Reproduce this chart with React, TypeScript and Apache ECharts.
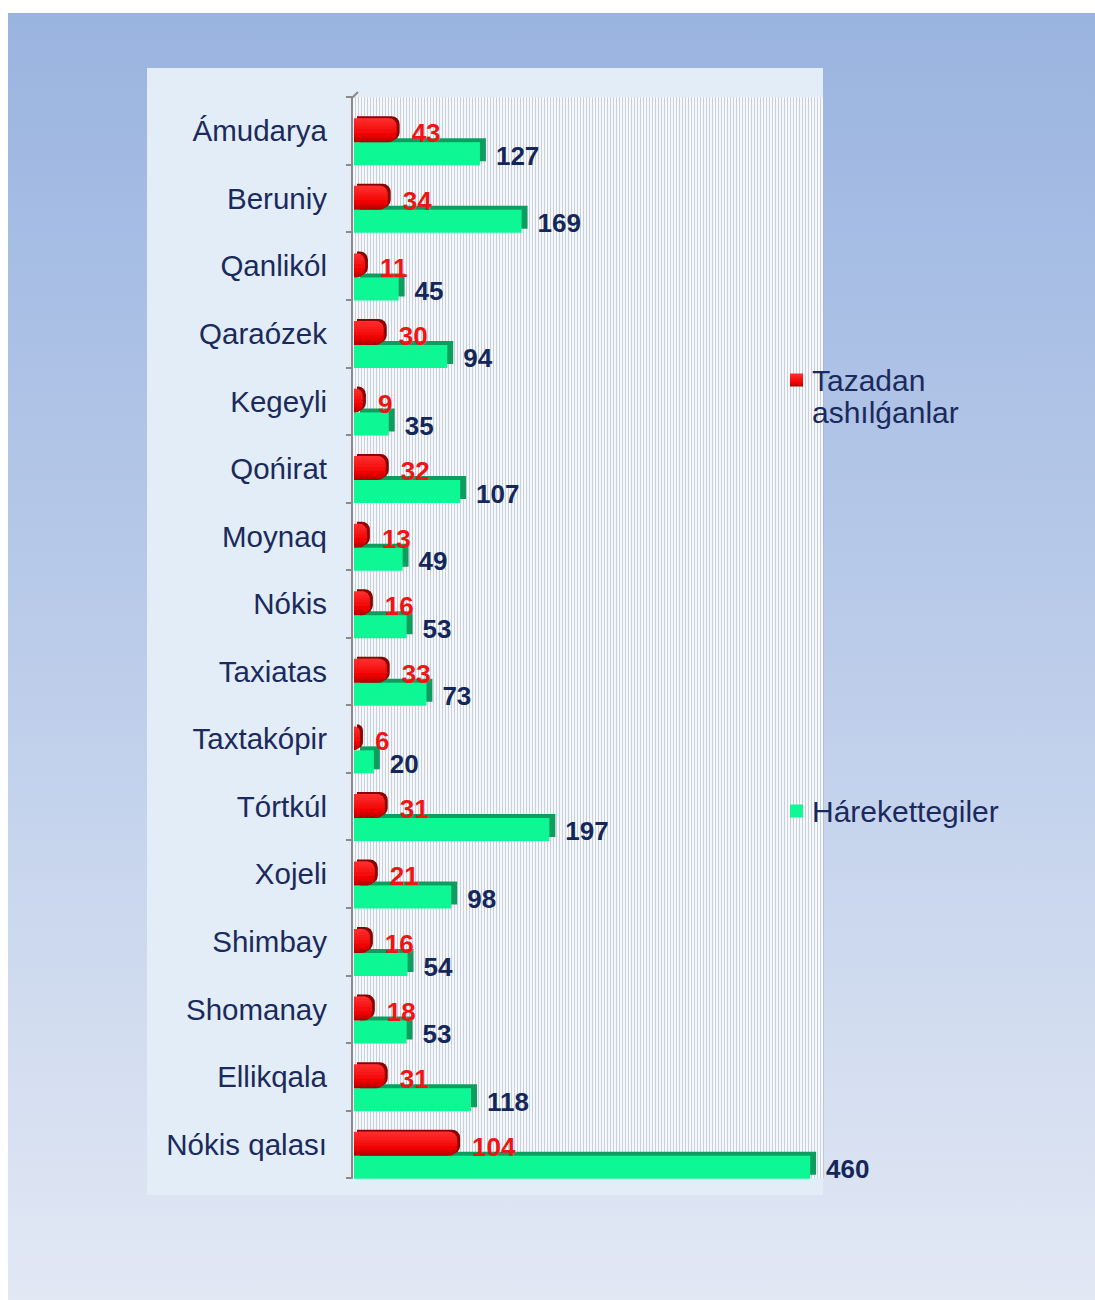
import React, { useEffect, useRef } from "react";
import * as echarts from "echarts";

const categories = [
  "Ámudarya", "Beruniy", "Qanlikól", "Qaraózek", "Kegeyli", "Qońirat", "Moynaq", "Nókis",
  "Taxiatas", "Taxtakópir", "Tórtkúl", "Xojeli", "Shimbay", "Shomanay", "Ellikqala", "Nókis qalası",
];
const tazadan = [43, 34, 11, 30, 9, 32, 13, 16, 33, 6, 31, 21, 16, 18, 31, 104];
const harekettegiler = [127, 169, 45, 94, 35, 107, 49, 53, 73, 20, 197, 98, 54, 53, 118, 460];
const seriesNames = ["Tazadan ashılǵanlar", "Hárekettegiler"];

const FONT = "'Liberation Sans', Arial, sans-serif";

export default function App() {
  const ref = useRef<HTMLDivElement>(null);
  useEffect(() => {
    if (!ref.current) return;
    const chart = echarts.init(ref.current, undefined, { renderer: "svg" });
    chart.setOption({
      animation: false,
      backgroundColor: "transparent",
      graphic: [
        {
          type: "rect",
          z: -10,
          shape: { x: 139, y: 55, width: 676, height: 1127 },
          style: { fill: "#e3edf8" },
        },
        {
          type: "line",
          z: 10,
          shape: { x1: 344, y1: 85, x2: 350, y2: 79 },
          style: { stroke: "#8a8a8a", lineWidth: 2 },
        },
      ],
      legend: [
        {
          data: [seriesNames[0]],
          left: 782,
          top: 319,
          padding: 0,
          itemWidth: 13,
          itemHeight: 13,
          icon: "rect",
          formatter: () => " \nTazadan\nashılǵanlar",
          textStyle: {
            fontFamily: FONT,
            fontSize: 30,
            lineHeight: 32,
            color: "#1b2a5c",
            padding: [0, 0, 0, 4],
          },
        },
        {
          data: [seriesNames[1]],
          left: 782,
          top: 782,
          padding: 0,
          itemWidth: 13,
          itemHeight: 13,
          icon: "rect",
          textStyle: {
            fontFamily: FONT,
            fontSize: 30,
            lineHeight: 32,
            color: "#1b2a5c",
            padding: [0, 0, 0, 4],
          },
        },
      ],
      grid: [
        {
          left: 344,
          top: 84,
          width: 471,
          height: 1081,
          show: true,
          backgroundColor: "#f6f8fb",
          borderWidth: 0,
        },
        {
          left: 346,
          top: 95,
          width: 469,
          height: 1081,
        },
      ],
      xAxis: [
        {
          type: "value",
          gridIndex: 0,
          min: 0,
          max: 471,
          interval: 3,
          axisLine: { show: false },
          axisTick: { show: false },
          axisLabel: { show: false },
          splitLine: { show: true, lineStyle: { color: "rgba(170,182,200,0.6)", width: 1 } },
        },
        {
          type: "value",
          gridIndex: 1,
          min: 0,
          max: 473,
          show: false,
        },
      ],
      yAxis: [
        {
          type: "category",
          gridIndex: 0,
          data: categories,
          inverse: true,
          axisLine: { show: true, lineStyle: { color: "#8a8a8a", width: 2 } },
          axisTick: { show: true, length: 6, lineStyle: { color: "#8a8a8a", width: 2 } },
          axisLabel: {
            margin: 25,
            fontFamily: FONT,
            fontSize: 29.5,
            color: "#1b2a5c",
          },
        },
        {
          type: "category",
          gridIndex: 1,
          data: categories,
          inverse: true,
          show: false,
        },
      ],
      series: [
        {
          name: seriesNames[0],
          type: "bar",
          xAxisIndex: 1,
          yAxisIndex: 1,
          data: tazadan,
          barWidth: 24,
          barGap: "0%",
          z: 3,
          itemStyle: {
            color: {
              type: "linear", x: 0, y: 0, x2: 0, y2: 1,
              colorStops: [
                { offset: 0, color: "#ff3030" },
                { offset: 0.7, color: "#f00000" },
                { offset: 1, color: "#a80000" },
              ],
            },
            borderRadius: [0, 8, 8, 0],
            shadowColor: "#8c0000",
            shadowOffsetX: 3,
            shadowOffsetY: -2,
            shadowBlur: 0,
          },
          label: {
            show: true,
            position: "right",
            distance: 15,
            offset: [0, 3],
            fontFamily: FONT,
            fontSize: 26,
            fontWeight: "bold",
            color: "#f01414",
          },
        },
        {
          name: seriesNames[1],
          type: "bar",
          xAxisIndex: 1,
          yAxisIndex: 1,
          data: harekettegiler,
          barWidth: 23,
          barGap: "0%",
          z: 2,
          itemStyle: {
            color: "#10f794",
            shadowColor: "#109e5f",
            shadowOffsetX: 6,
            shadowOffsetY: -4,
            shadowBlur: 0,
          },
          label: {
            show: true,
            position: "right",
            distance: 16,
            offset: [0, 2],
            fontFamily: FONT,
            fontSize: 26,
            fontWeight: "bold",
            color: "#14275a",
          },
        },
      ],
    });
    return () => chart.dispose();
  }, []);

  return (
    <div
      ref={ref}
      style={{
        position: "absolute",
        left: 8,
        top: 13,
        width: 1087,
        height: 1287,
        background: "linear-gradient(to bottom, #9ab4e0 0%, #b8cae9 45%, #e2e8f4 100%)",
      }}
    />
  );
}
